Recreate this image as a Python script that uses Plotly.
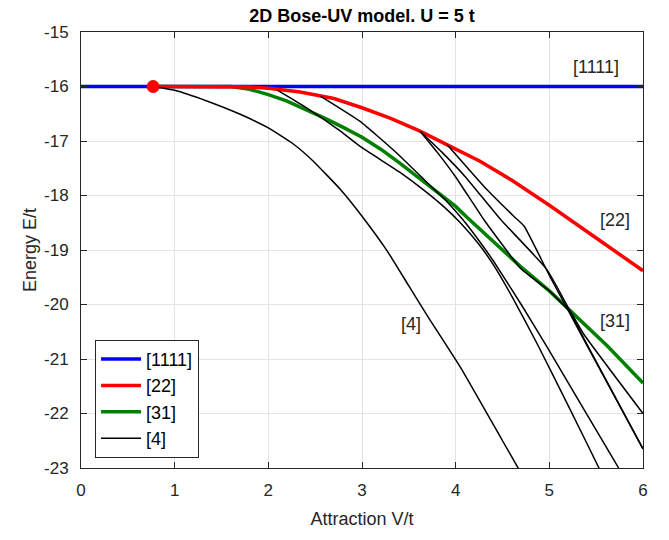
import plotly.graph_objects as go

# ---- data ----
x_1111 = [0.0, 6.0]
y_1111 = [-16.0, -16.0]

x_22 = [0.77, 1.5, 1.8, 2.0, 2.34, 2.7, 3.0, 3.3, 3.62, 3.91, 4.26, 4.6, 5.0, 5.5, 6.0]
y_22 = [-16.0, -16.0, -16.01, -16.03, -16.1, -16.22, -16.39, -16.58, -16.82, -17.07, -17.37, -17.72, -18.18, -18.78, -19.38]

x_31 = [0.77, 1.6, 1.8, 2.0, 2.2, 2.4, 2.6, 2.8, 3.0, 3.2, 3.4, 3.7, 4.0, 4.12, 4.5, 4.69, 5.0, 5.2, 5.5, 5.62, 6.0]
y_31 = [-16.0, -16.0, -16.05, -16.15, -16.27, -16.42, -16.58, -16.75, -16.93, -17.15, -17.4, -17.8, -18.2, -18.4, -19.0, -19.3, -19.75, -20.07, -20.55, -20.76, -21.44]

# black [4] branches
x_4a = [0.77, 1.0, 1.35, 1.7, 2.0, 2.27, 2.48, 2.77, 3.0, 3.27, 3.5, 3.71, 4.05, 4.5, 4.8]
y_4a = [-16.0, -16.07, -16.27, -16.51, -16.76, -17.06, -17.37, -17.89, -18.38, -19.02, -19.66, -20.24, -21.15, -22.5, -23.4]

x_4b = [2.1, 2.38, 2.77, 2.98, 3.41, 3.66, 3.87, 4.05, 4.25, 4.41, 4.6, 4.87, 5.2, 5.53, 5.6]
y_4b = [-16.07, -16.36, -16.82, -17.1, -17.58, -17.9, -18.2, -18.5, -18.9, -19.29, -19.85, -20.72, -21.85, -23.0, -23.25]

x_4c = [2.56, 2.98, 3.37, 3.7, 3.9, 4.08, 4.25, 4.41, 4.7, 4.98, 5.35, 5.74, 5.8]
y_4c = [-16.18, -16.64, -17.22, -17.77, -18.1, -18.45, -18.83, -19.22, -20.0, -20.79, -21.87, -23.0, -23.2]

x_4d = [3.62, 3.8, 4.0, 4.3, 4.7, 5.0, 5.23, 5.37, 6.0]
y_4d = [-16.82, -17.2, -17.66, -18.44, -19.35, -19.75, -20.15, -20.55, -22.0]

x_4e = [3.62, 3.85, 4.1, 4.48, 4.97, 5.23, 5.37, 6.0]
y_4e = [-16.82, -17.2, -17.65, -18.44, -19.35, -20.15, -20.63, -22.65]

x_4f = [3.91, 4.3, 4.62, 4.73, 5.01, 5.23, 5.37, 6.0]
y_4f = [-17.07, -17.83, -18.38, -18.56, -19.5, -20.2, -20.65, -22.65]

black_x = [x_4a, x_4b, x_4c, x_4d, x_4e, x_4f]
black_y = [y_4a, y_4b, y_4c, y_4d, y_4e, y_4f]

marker_x = [0.77]
marker_y = [-16.0]

labels = [("[1111]", 5.5, -15.64), ("[22]", 5.7, -18.45), ("[31]", 5.7, -20.3), ("[4]", 3.52, -20.35)]

x_ticks = [0, 1, 2, 3, 4, 5, 6]
y_ticks = [-23, -22, -21, -20, -19, -18, -17, -16, -15]

FONT = "Liberation Sans, Arial, Helvetica, sans-serif"
TXT = "#262626"

fig = go.Figure()
fig.add_trace(go.Scatter(x=x_1111, y=y_1111, mode="lines", name="[1111]",
                         line=dict(color="#0000ff", width=3.5), legendrank=1))
fig.add_trace(go.Scatter(x=x_31, y=y_31, mode="lines", name="[31]",
                         line=dict(color="#008000", width=3.5), legendrank=3))
fig.add_trace(go.Scatter(x=x_22, y=y_22, mode="lines", name="[22]",
                         line=dict(color="#ff0000", width=3.5), legendrank=2))
for i, (bx, by) in enumerate(zip(black_x, black_y)):
    fig.add_trace(go.Scatter(x=bx, y=by, mode="lines", name="[4]",
                             line=dict(color="#000000", width=1.5, shape="spline", smoothing=0.4),
                             showlegend=(i == 0), legendrank=4))
fig.add_trace(go.Scatter(x=marker_x, y=marker_y, mode="markers", showlegend=False,
                         marker=dict(color="#ff0000", size=13)))

for txt, lx, ly in labels:
    fig.add_annotation(x=lx, y=ly, text=txt, showarrow=False,
                       font=dict(family=FONT, size=18, color=TXT))

axis_common = dict(showline=True, linecolor="#262626", linewidth=1, mirror="ticks",
                   ticks="inside", ticklen=6, tickcolor="#262626",
                   showgrid=True, gridcolor="#e3e3e3", gridwidth=1, zeroline=False,
                   tickfont=dict(family=FONT, size=17, color=TXT))

fig.update_xaxes(range=[0, 6], tickvals=x_ticks, ticktext=[str(v) for v in x_ticks],
                 ticklabelstandoff=7, **axis_common,
                 title=dict(text="Attraction V/t", font=dict(family=FONT, size=18, color=TXT), standoff=12))
fig.update_yaxes(range=[-23, -15], tickvals=y_ticks, ticktext=[str(v) for v in y_ticks],
                 ticklabelstandoff=8, **axis_common,
                 title=dict(text="Energy E/t", font=dict(family=FONT, size=18, color=TXT), standoff=2))

fig.update_layout(
    width=669, height=540,
    margin=dict(l=81, r=26, t=32, b=72),
    paper_bgcolor="white", plot_bgcolor="white",
    title=dict(text="<b>2D Bose-UV model. U = 5 t</b>", x=(81 + 643) / 2 / 669, xanchor="center",
               y=1 - 16 / 540, yanchor="middle",
               font=dict(family=FONT, size=18, color="#000000")),
    legend=dict(x=0.025, y=0.294, xanchor="left", yanchor="top",
                bgcolor="white", bordercolor="#262626", borderwidth=1,
                font=dict(family=FONT, size=18, color="#000000"),
                tracegroupgap=0, itemwidth=40),
    showlegend=True,
)

fig.write_html("out.html")
